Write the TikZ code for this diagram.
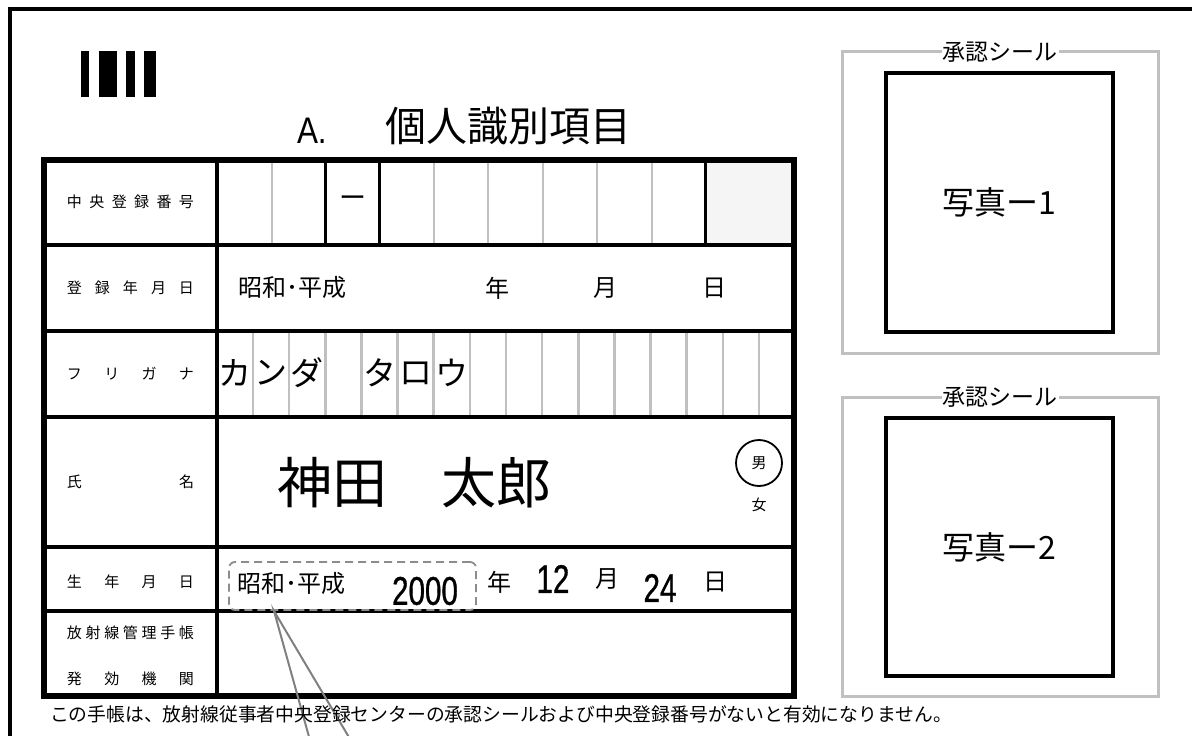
\documentclass[tikz,border=0pt]{standalone}
\usepackage{fontspec}
\newfontfamily\jp{Noto Sans CJK JP}
\newfontfamily\narrow[FakeStretch=0.74,FakeBold=0.8]{Liberation Sans}
\newfontfamily\latinA[FakeStretch=0.85]{Liberation Sans}
\definecolor{rulegray}{RGB}{192,192,192}
\definecolor{dashgray}{RGB}{140,140,140}
\definecolor{leadgray}{RGB}{128,128,128}
\definecolor{shadecell}{RGB}{245,245,245}
\newcommand\jpsize[1]{\jp\fontsize{#1bp}{#1bp}\selectfont}
\newcommand\nrsize[1]{\narrow\fontsize{#1bp}{#1bp}\selectfont}
\begin{document}
\begin{tikzpicture}[x=1bp,y=-1bp,
  txt/.style={inner sep=0pt, outer sep=0pt},
  lbl/.style={txt, font=\jpsize{15}},
  cell/.style={txt, font=\jpsize{24}},
  kana/.style={txt, font=\jpsize{33}},
  digits/.style={txt, font=\nrsize{40}},
  tblouter/.style={line width=5.5bp},
  tblrule/.style={line width=3.5bp},
  cellrule/.style={line width=3bp},
  grayrule/.style={line width=2.5bp, rulegray},
  sealbox/.style={draw=rulegray, line width=3bp, inner sep=0pt, outer sep=0pt},
  photobox/.style={draw=black, line width=3.5bp, inner sep=0pt, outer sep=0pt, font=\jpsize{32}},
  seallabel/.style={txt, fill=white, inner xsep=1bp, font=\jpsize{23}},
  bar/.style={fill=black}]
\useasboundingbox (0,0) rectangle (1192,736);
% outer frame
\draw[line width=4bp] (10,745) -- (10,9) -- (1200,9);
% barcode mark
\fill[bar] (81,51) rectangle (89,97);
\fill[bar] (99,51) rectangle (117,97);
\fill[bar] (126,51) rectangle (135,97);
\fill[bar] (144,51) rectangle (156,97);
% title
\node[txt, anchor=base west, font=\latinA\fontsize{37bp}{37bp}\selectfont] (titleA) at (297,143) {A.};
\node[txt, font=\jpsize{41}] (title) at (508,126) {個人識別項目};
% table: shading and fine rules
\fill[shadecell] (705,160) rectangle (794,245);
\foreach \gx in {272,434,488,543,597,652} \draw[grayrule] (\gx,160) -- (\gx,245);
\foreach \k in {0,...,14} \draw[grayrule] ({253+36.14*\k},331) -- ({253+36.14*\k},417);
\foreach \bx in {325,379,705} \draw[cellrule] (\bx,160) -- (\bx,245);
\foreach \ry in {245,331,417,547,611} \draw[tblrule] (44,\ry) -- (794,\ry);
\draw[tblrule] (217,160) -- (217,696);
\draw[tblouter] (44,160) rectangle (794,696);
% labels
\node[lbl] (l1) at (130.5,202) {\hbox to 127bp{中\hfil 央\hfil 登\hfil 録\hfil 番\hfil 号}};
\node[lbl] (l2) at (130.5,288) {\hbox to 127bp{登\hfil 録\hfil 年\hfil 月\hfil 日}};
\node[lbl] (l3) at (130.5,374) {\hbox to 127bp{フ\hfil リ\hfil ガ\hfil ナ}};
\node[lbl] (l4) at (130.5,482) {\hbox to 127bp{氏\hfil 名}};
\node[lbl] (l5) at (130.5,582) {\hbox to 127bp{生\hfil 年\hfil 月\hfil 日}};
\node[lbl] (l6a) at (130.5,633) {\hbox to 127bp{放\hfil 射\hfil 線\hfil 管\hfil 理\hfil 手\hfil 帳}};
\node[lbl] (l6b) at (130.5,679) {\hbox to 127bp{発\hfil 効\hfil 機\hfil 関}};
% row 1
\node[txt, font=\jpsize{27}] (dash) at (353,202) {ー};
% row 2
\node[cell, anchor=west] (era1) at (238,287) {昭和･平成};
\node[cell] (y1) at (497,288) {年};
\node[cell] (m1) at (605,288) {月};
\node[cell] (d1) at (714,288) {日};
% row 3 furigana
\node[kana] (k1) at (235,373) {カ};
\node[kana] (k2) at (271,373) {ン};
\node[kana] (k3) at (307,373) {ダ};
\node[kana] (k5) at (380,373) {タ};
\node[kana] (k6) at (416,373) {ロ};
\node[kana] (k7) at (452,373) {ウ};
% row 4 name
\node[txt, font=\jpsize{55}] (sei) at (332,483) {神田};
\node[txt, font=\jpsize{55}] (mei) at (496,483) {太郎};
\node[txt, draw, circle, line width=1.8bp, minimum size=46bp, font=\jpsize{15}] (male) at (759,463) {男};
\node[txt, font=\jpsize{15}] (female) at (759,505) {女};
% row 5 birth date
\node[draw=dashgray, line width=1.8bp, dash pattern=on 8bp off 5bp, rounded corners=6bp,
      minimum width=247bp, minimum height=48bp, inner sep=0pt] (dob) at (352.5,586) {};
\node[cell, anchor=west] (era2) at (237,583) {昭和･平成};
\node[digits] (yr) at (425,591) {2000};
\node[cell] (y2) at (499,582) {年};
\node[digits] (mo) at (553,579) {12};
\node[cell] (m2) at (607,579) {月};
\node[digits] (dy) at (660,588) {24};
\node[cell] (d2) at (715,582) {日};
% leader lines
\coordinate (apex) at (274,611);
\coordinate (lead1) at (311,744);
\coordinate (lead2) at (353,744);
\draw[leadgray, line width=2bp] (lead1) -- (apex) -- (lead2);
% footer
\node[txt, anchor=west, font=\jpsize{18.8}] (footer) at (50,714) {この手帳は、放射線従事者中央登録センターの承認シールおよび中央登録番号がないと有効になりません。};
% seal / photo boxes
\node[sealbox, minimum width=316bp, minimum height=301bp] (seal1) at (1000,202.5) {};
\node[photobox, minimum width=227bp, minimum height=259bp] (photo1) at (999.5,202.5) {写真ー1};
\node[seallabel] (sl1) at (seal1.north) {承認シール};
\node[sealbox, minimum width=316bp, minimum height=299bp] (seal2) at (1000,546.5) {};
\node[photobox, minimum width=227bp, minimum height=258bp] (photo2) at (999.5,547) {写真ー2};
\node[seallabel] (sl2) at (seal2.north) {承認シール};
\end{tikzpicture}
\end{document}
